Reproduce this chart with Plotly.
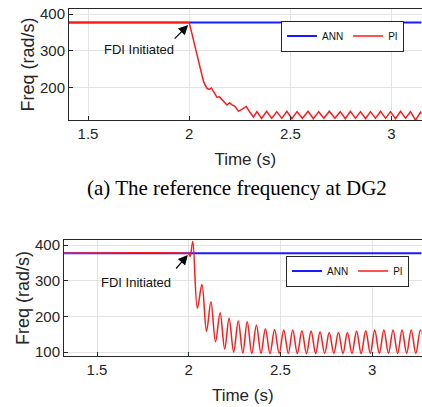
import plotly.graph_objects as go

# ---------------- data ----------------
# (a) top panel: reference frequency at DG2
top_ann_t = [1.30, 3.30]
top_ann_f = [377, 377]

top_pi_t = [1.30, 2.000, 2.010, 2.021, 2.038, 2.054, 2.071, 2.088, 2.100, 2.110,
            2.125, 2.137, 2.150, 2.162, 2.175, 2.187, 2.200, 2.210, 2.228, 2.244,
            2.260, 2.282, 2.300, 2.318, 2.335, 2.358, 2.383, 2.408, 2.433, 2.458,
            2.483, 2.508, 2.533, 2.560, 2.588, 2.614, 2.640, 2.666, 2.693, 2.720,
            2.747, 2.772, 2.797, 2.822, 2.847, 2.872, 2.896, 2.921, 2.946, 2.971,
            2.995, 3.020, 3.045, 3.070, 3.094, 3.119, 3.144, 3.170]
top_pi_f = [377, 377, 355, 330, 285, 249, 217, 199, 196, 200,
            185, 175, 176, 168, 160, 154, 160, 155, 150, 137,
            142, 150, 135, 121, 136, 118, 137, 118, 136, 118,
            137, 117, 136, 118, 137, 117, 136, 118, 137, 118,
            136, 117, 137, 118, 136, 117, 136, 118, 137, 118,
            136, 117, 137, 118, 136, 113, 135, 118]

# (b) bottom panel
bot_ann_t = [1.30, 3.30]
bot_ann_f = [377, 377]

bot_pi_t = [1.30, 1.990, 2.000, 2.008, 2.022, 2.047, 2.072, 2.097, 2.121, 2.146,
            2.171, 2.196, 2.220, 2.245, 2.270, 2.295, 2.319, 2.344, 2.369, 2.394,
            2.418, 2.443, 2.468, 2.493, 2.518, 2.543, 2.567, 2.592, 2.617, 2.642,
            2.667, 2.692, 2.716, 2.741, 2.766, 2.791, 2.816, 2.841, 2.865, 2.890,
            2.915, 2.940, 2.965, 2.990, 3.014, 3.039, 3.064, 3.089, 3.114, 3.139,
            3.163, 3.188, 3.213, 3.238, 3.263, 3.288]
bot_pi_f = [377, 377, 376, 368, 410, 223, 289, 158, 241, 129,
            210, 109, 195, 100, 187, 97, 185, 96, 176, 96,
            165, 96, 163, 96, 162, 96, 162, 96, 160, 96,
            159, 96, 157, 96, 155, 96, 155, 96, 155, 96,
            159, 96, 160, 96, 162, 96, 162, 96, 162, 96,
            162, 96, 162, 96, 162, 96]

x_ticks = [1.5, 2, 2.5, 3]
x_tick_labels = ["1.5", "2", "2.5", "3"]
top_y_ticks = [200, 300, 400]
bot_y_ticks = [100, 200, 300, 400]

caption_a = "(a) The reference frequency at DG2"
annot_text = "FDI Initiated"

# ---------------- figure ----------------
W, H = 422, 407
SANS = "Liberation Sans, Arial, sans-serif"
AX = "#262626"
GRID = "#e3e3e3"
BLUE = "#1a1aff"
RED = "#ff1a1a"

fig = go.Figure()

fig.add_trace(go.Scatter(x=top_ann_t, y=top_ann_f, mode="lines", name="ANN",
                         line=dict(color=BLUE, width=2), xaxis="x", yaxis="y",
                         legend="legend"))
fig.add_trace(go.Scatter(x=top_pi_t, y=top_pi_f, mode="lines", name="PI",
                         line=dict(color=RED, width=1.5), xaxis="x", yaxis="y",
                         legend="legend"))
fig.add_trace(go.Scatter(x=bot_ann_t, y=bot_ann_f, mode="lines", name="ANN",
                         line=dict(color=BLUE, width=2), xaxis="x2", yaxis="y2",
                         legend="legend2"))
fig.add_trace(go.Scatter(x=bot_pi_t, y=bot_pi_f, mode="lines", name="PI",
                         line=dict(color=RED, width=1.5, shape="spline", smoothing=1.0),
                         xaxis="x2", yaxis="y2", legend="legend2"))


def px_x(p):
    return p / W


def px_y(p):
    return 1 - p / H


axis_common = dict(showline=True, linecolor=AX, linewidth=1, mirror=True,
                   ticks="inside", ticklen=4, tickcolor=AX, showgrid=True,
                   gridcolor=GRID, gridwidth=1, zeroline=False,
                   tickfont=dict(family=SANS, size=15, color=AX),
                   automargin=False)

legend_common = dict(xanchor="left", yanchor="middle", orientation="h",
                     bordercolor=AX, borderwidth=1, bgcolor="white",
                     font=dict(family=SANS, size=10, color="#111"),
                     itemwidth=30, tracegroupgap=0)

fig.update_layout(
    width=W, height=H,
    margin=dict(l=0, r=0, t=0, b=0),
    paper_bgcolor="white", plot_bgcolor="white",
    font=dict(family=SANS, color=AX),
    xaxis=dict(domain=[px_x(69), px_x(421.5)], range=[1.406, 3.1485],
               tickvals=x_ticks, ticktext=x_tick_labels, anchor="y",
               title=dict(text="Time (s)", font=dict(size=17, family=SANS, color=AX),
                          standoff=12),
               **axis_common),
    yaxis=dict(domain=[px_y(120), px_y(9)], range=[113.5, 413.5],
               tickvals=top_y_ticks, anchor="x",
               title=dict(text="Freq (rad/s)", font=dict(size=18, family=SANS, color=AX),
                          standoff=0),
               **axis_common),
    xaxis2=dict(domain=[px_x(64), px_x(421.5)], range=[1.32, 3.269],
                tickvals=x_ticks, ticktext=x_tick_labels, anchor="y2",
                title=dict(text="Time (s)", font=dict(size=17, family=SANS, color=AX),
                           standoff=12),
                **axis_common),
    yaxis2=dict(domain=[px_y(356), px_y(240)], range=[89, 414],
                tickvals=bot_y_ticks, anchor="x2",
                title=dict(text="Freq (rad/s)", font=dict(size=18, family=SANS, color=AX),
                           standoff=0),
                **axis_common),
    legend=dict(x=px_x(281), y=px_y(36), **legend_common),
    legend2=dict(x=px_x(286), y=px_y(271), **legend_common),
    showlegend=True,
)

# annotations: arrows + text
fig.add_annotation(x=1.995, y=370, xref="x", yref="y", ax=-15, ay=15,
                   axref="pixel", ayref="pixel", text="", showarrow=True,
                   arrowhead=2, arrowsize=1.6, arrowwidth=1.2, arrowcolor="black")
fig.add_annotation(x=1.75, y=305, xref="x", yref="y", text=annot_text,
                   showarrow=False, font=dict(family=SANS, size=13, color="#111"))
fig.add_annotation(x=1.995, y=372, xref="x2", yref="y2", ax=-13, ay=15,
                   axref="pixel", ayref="pixel", text="", showarrow=True,
                   arrowhead=2, arrowsize=1.6, arrowwidth=1.2, arrowcolor="black")
fig.add_annotation(x=1.712, y=294, xref="x2", yref="y2", text=annot_text,
                   showarrow=False, font=dict(family=SANS, size=13, color="#111"))

# caption
fig.add_annotation(x=237 / W, y=px_y(188), xref="paper", yref="paper",
                   text=caption_a, showarrow=False, xanchor="center", yanchor="middle",
                   font=dict(family="Liberation Serif, Times New Roman, serif",
                             size=21, color="black"))

fig.write_html("out.html", config={"displayModeBar": False},
               post_script="document.body.style.margin='0';document.body.style.padding='0';")
